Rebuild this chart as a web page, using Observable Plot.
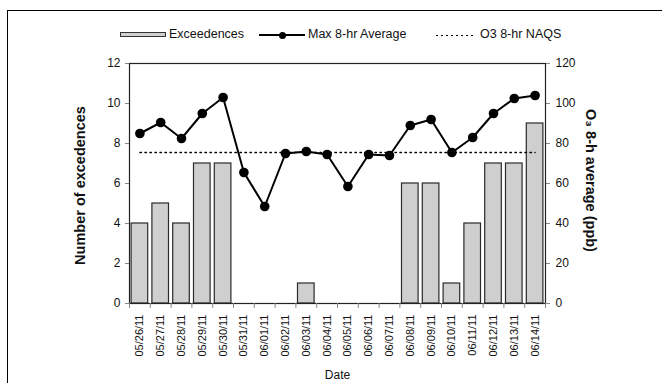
<!DOCTYPE html>
<html>
<head>
<meta charset="utf-8">
<script src="https://cdn.jsdelivr.net/npm/d3@7"></script>
<script src="https://cdn.jsdelivr.net/npm/@observablehq/plot@0.6"></script>
<style>
  body { margin: 0; background: #fff; font-family: "Liberation Sans", Arial, sans-serif; }
  #wrap { position: relative; width: 662px; height: 383px; overflow: hidden; }
  #outer { position: absolute; left: 7px; top: 10px; width: 700px; height: 420px; border-left: 1.5px solid #000; border-top: 1.5px solid #000; pointer-events: none; }
  #legend { position: relative; height: 48px; font-size: 12.5px; color: #111; }
  #legend .item { position: absolute; top: 26px; line-height: 17px; white-space: nowrap; }
  #legend .sw-bar { position: absolute; left: 120px; top: 32px; width: 44px; height: 3px; background: #cfcfcf; border: 1px solid #333; }
  #legend .sw-line { position: absolute; left: 259px; top: 34px; width: 46px; height: 2px; background: #000; }
  #legend .sw-dot { position: absolute; left: 278.5px; top: 31.5px; width: 7px; height: 7px; border-radius: 50%; background: #000; }
  #legend .sw-dash { position: absolute; left: 436px; top: 34.5px; width: 40px; height: 1.3px;
    background: repeating-linear-gradient(to right, #000 0, #000 1.6px, transparent 1.6px, transparent 5px); }
  #chart svg { display: block; }
</style>
</head>
<body>
<div id="wrap">
  <div id="legend">
    <div class="sw-bar"></div>
    <div class="item" style="left:169px">Exceedences</div>
    <div class="sw-line"></div>
    <div class="sw-dot"></div>
    <div class="item" style="left:308px">Max 8-hr Average</div>
    <div class="sw-dash"></div>
    <div class="item" style="left:480px">O3 8-hr NAQS</div>
  </div>
  <div id="chart"></div>
  <div id="outer"></div>
</div>
<script>
const dates = ["05/26/11","05/27/11","05/28/11","05/29/11","05/30/11","05/31/11","06/01/11","06/02/11","06/03/11","06/04/11",
               "06/05/11","06/06/11","06/07/11","06/08/11","06/09/11","06/10/11","06/11/11","06/12/11","06/13/11","06/14/11"];
const exceedences = [4,5,4,7,7,0,0,0,1,0,0,0,0,6,6,1,4,7,7,9];
const max8hr = [85,90.5,82.5,95,103,65.5,48.5,75,76,74.5,58.5,74.5,74,89,92,75.5,83,95,102.5,104];
const naqs = 75.5;
const leftTicks = [0,2,4,6,8,10,12];
const rightTicks = [0,20,40,60,80,100,120];
const leftTitle = "Number of excedences";
const rightTitle = "O\u2083 8-h average (ppb)";
const xTitle = "Date";

const ratio = 10; // right axis (ppb) per left axis unit
const data = dates.map((d, i) => ({i, date: d, exc: exceedences[i], o3: max8hr[i]}));

const font = "Liberation Sans, Arial, sans-serif";
const plot = Plot.plot({
  width: 662,
  height: 335,
  marginLeft: 129,
  marginRight: 117,
  marginTop: 15,
  marginBottom: 80,
  style: {fontFamily: font, fontSize: "12px", color: "#111", background: "transparent"},
  x: {domain: [0, dates.length], axis: null},
  y: {domain: [0, 12], axis: null},
  marks: [
    Plot.rectY(data, {filter: d => d.exc > 0, x1: d => d.i, x2: d => d.i + 1, y: "exc",
      insetLeft: 2.1, insetRight: 2.1, fill: "#cfcfcf", stroke: "#2a2a2a", strokeWidth: 1.2}),
    Plot.line(data, {x: d => d.i + 0.5, y: () => naqs / ratio, stroke: "#000", strokeWidth: 1.3, strokeDasharray: "1.6,3.4"}),
    Plot.line(data, {x: d => d.i + 0.5, y: d => d.o3 / ratio, stroke: "#000", strokeWidth: 2}),
    Plot.dot(data, {x: d => d.i + 0.5, y: d => d.o3 / ratio, r: 4.8, fill: "#000", stroke: "none"}),
    Plot.frame({stroke: "#222", strokeWidth: 1.2}),
    Plot.axisY(leftTicks, {anchor: "left", tickSize: 4, tickPadding: 5, stroke: "#888", fill: "#111", fontSize: 12, label: null}),
    Plot.axisY(leftTicks, {anchor: "right", tickSize: 4, tickPadding: 6, stroke: "#888", fill: "#111", fontSize: 12,
      tickFormat: d => rightTicks[leftTicks.indexOf(d)], label: null}),
    Plot.axisX(d3.range(dates.length + 1), {anchor: "bottom", tickSize: 5, stroke: "#888", tickFormat: () => "", label: null}),
    Plot.axisX(data.map(d => d.i + 0.5), {anchor: "bottom", tickSize: 0, tickPadding: 11, tickRotate: -90,
      fontSize: 11, fill: "#111", tickFormat: v => dates[Math.floor(v)], label: null}),
    Plot.text([leftTitle], {frameAnchor: "left", dx: -49, dy: 2, rotate: -90, textAnchor: "middle",
      fontSize: 14.5, fontWeight: "bold", fill: "#111"}),
    Plot.text([rightTitle], {frameAnchor: "right", dx: 45, dy: -3, rotate: 90, textAnchor: "middle",
      fontSize: 14.5, fontWeight: "bold", fill: "#111"}),
    Plot.text([xTitle], {frameAnchor: "bottom", dy: 75, textAnchor: "middle", fontSize: 12, fill: "#111"})
  ]
});
document.getElementById("chart").appendChild(plot);
</script>
</body>
</html>
